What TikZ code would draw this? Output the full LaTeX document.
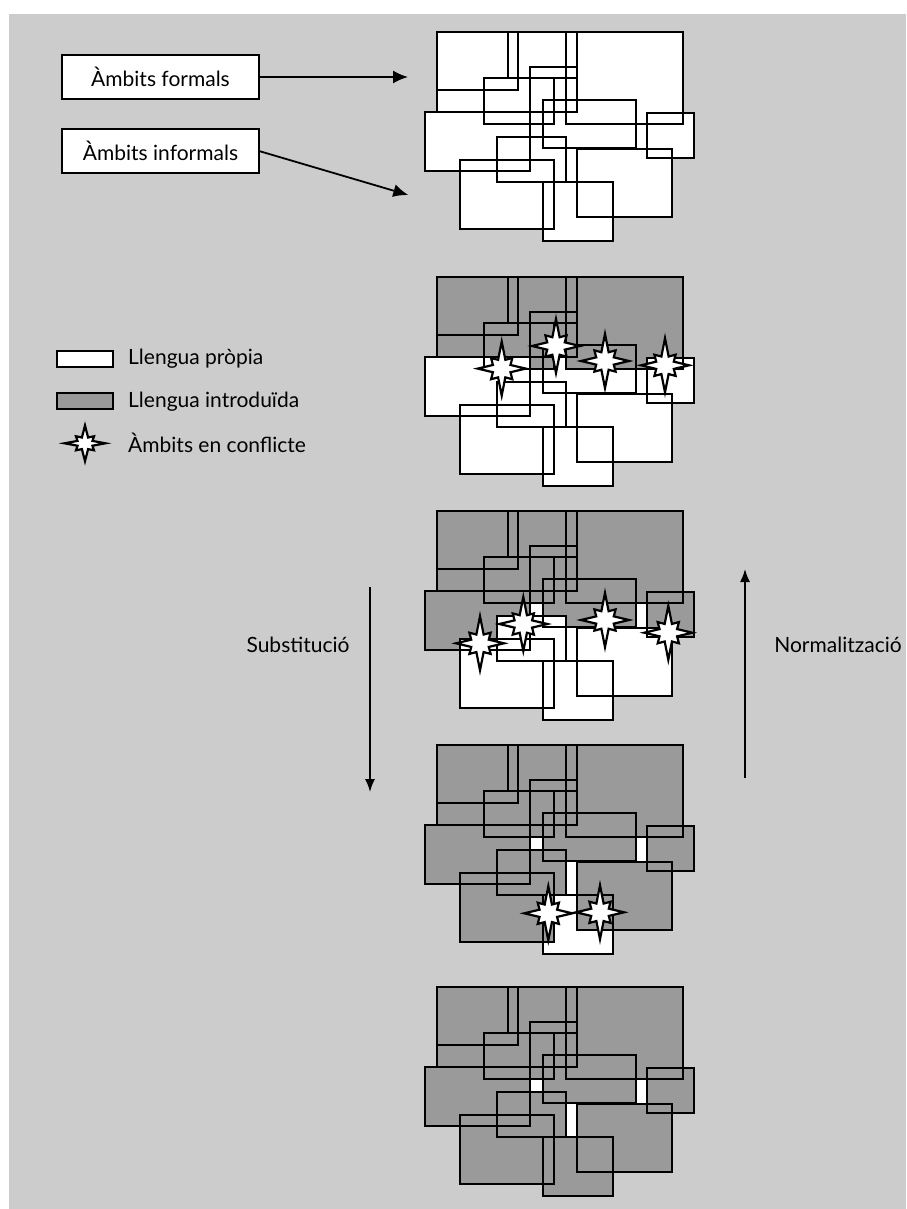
\documentclass[tikz,border=0pt]{standalone}
\usepackage{fontspec}
\setmainfont{Lato}
\usetikzlibrary{arrows.meta}
\definecolor{fons}{HTML}{CCCCCC}
\definecolor{introduida}{HTML}{9A9A9A}
\tikzset{
	rim/.style={line width=2.4pt},
	etiqueta/.style={draw, fill=white, line width=2pt, minimum width=197pt, minimum height=44pt, inner sep=0pt, font=\fontsize{21}{24}\selectfont},
	clau/.style={draw, line width=2pt, minimum width=56pt, minimum height=16pt, inner sep=0pt},
	text clau/.style={anchor=west, inner sep=0pt, font=\fontsize{21}{24}\selectfont},
	fletxa/.style={-{Latex[length=15pt,width=13pt]}, line width=1.8pt},
	fletxa llarga/.style={-{Latex[length=13pt,width=10pt]}, line width=1.6pt},
	conflicte/.pic={
		\draw[line width=2.2pt, fill=white, line join=miter] (0:24) -- (22.5:9.5) -- (45:15) -- (67.5:9.5) -- (90:27) -- (112.5:9.5) -- (135:15) -- (157.5:9.5) -- (180:24) -- (202.5:9.5) -- (225:15) -- (247.5:9.5) -- (270:27) -- (292.5:9.5) -- (315:15) -- (337.5:9.5) -- cycle;
	},
}
% x1/y1/x2/y2/colour, y from the top of each block
\def\rectlist{543/150/613/209/cM, 543/68/636/116/cH, 437/0/577/80/cF, 437/0/518/58/cF, 508/0/577/46/cF, 530/35/577/80/cF, 566/0/683/92/cF, 484/46/554/92/cF, 425/80/530/139/cG, 647/81/694/126/cI, 577/117/672/185/cJ, 497/105/566/150/cK, 460/128/554/197/cL}
\newcommand{\tints}[8]{\colorlet{cF}{#1}\colorlet{cG}{#2}\colorlet{cH}{#3}\colorlet{cI}{#4}\colorlet{cJ}{#5}\colorlet{cK}{#6}\colorlet{cL}{#7}\colorlet{cM}{#8}}
\newcommand{\ambits}{%
	\fill[white] (530,92) rectangle (543,105) (636,92) rectangle (647,117) (566,116) rectangle (577,150);
	\foreach \xa/\ya/\xb/\yb/\c in \rectlist
		\fill[\c] (\xa,\ya) rectangle (\xb,\yb);
	\foreach \xa/\ya/\xb/\yb/\c in \rectlist
		\draw[rim] (\xa,\ya) rectangle (\xb,\yb);
}
\begin{document}
\begin{tikzpicture}[x=1pt, y=-1pt]
	\useasboundingbox (0,0) rectangle (906,1209);
	\fill[fons] (9,14) rectangle (906,1209);
	%
	\node[etiqueta] (formals) at (160.5,77) {Àmbits formals};
	\node[etiqueta] (informals) at (160.5,151.3) {Àmbits informals};
	\coordinate (formals end) at (408,77);
	\coordinate (informals end) at (408.3,195);
	\draw[fletxa] (formals) -- (formals end);
	\draw[fletxa] (informals.east) -- (informals end);
	%
	\node[clau, fill=white] (own key) at (85.3,358.7) {};
	\node[clau, fill=introduida] (intro key) at (85.3,401.3) {};
	\pic (conflict key) at (85,443.3) [xscale=.85, yscale=.66] {conflicte};
	\node[text clau] (own text) at (128,358.7) {Llengua pròpia};
	\node[text clau] (intro text) at (128,401.3) {Llengua introduïda};
	\node[text clau] (conflict text) at (128,443.3) {Àmbits en conflicte};
	%
	\begin{scope}[shift={(0,32)}]
		\tints{white}{white}{white}{white}{white}{white}{white}{white}
		\ambits
	\end{scope}
	\begin{scope}[shift={(0,277)}]
		\tints{introduida}{white}{white}{white}{white}{white}{white}{white}
		\ambits
		\pic (s21) at (501.7,91.6) {conflicte};
		\pic (s22) at (556,69) {conflicte};
		\pic (s23) at (605,84) {conflicte};
		\pic (s24) at (665,88.3) {conflicte};
	\end{scope}
	\begin{scope}[shift={(0,511)}]
		\tints{introduida}{introduida}{introduida}{introduida}{white}{white}{white}{white}
		\ambits
		\pic (s31) at (480,132.3) {conflicte};
		\pic (s32) at (523.3,113) {conflicte};
		\pic (s33) at (605,109) {conflicte};
		\pic (s34) at (668.3,121.7) {conflicte};
	\end{scope}
	\begin{scope}[shift={(0,745)}]
		\tints{introduida}{introduida}{introduida}{introduida}{introduida}{introduida}{introduida}{white}
		\ambits
		\pic (s41) at (548.3,168.3) {conflicte};
		\pic (s42) at (600,167.3) {conflicte};
	\end{scope}
	\begin{scope}[shift={(0,987)}]
		\tints{introduida}{introduida}{introduida}{introduida}{introduida}{introduida}{introduida}{introduida}
		\ambits
	\end{scope}
	%
	\coordinate (subst start) at (370,587);
	\coordinate (subst end) at (370,792);
	\coordinate (norm start) at (745,778);
	\coordinate (norm end) at (745,569);
	\draw[fletxa llarga] (subst start) -- (subst end);
	\draw[fletxa llarga] (norm start) -- (norm end);
	\node[text clau, anchor=center] (subst) at (298,645) {Substitució};
	\node[text clau, anchor=center] (norm) at (838,645) {Normalització};
\end{tikzpicture}
\end{document}
